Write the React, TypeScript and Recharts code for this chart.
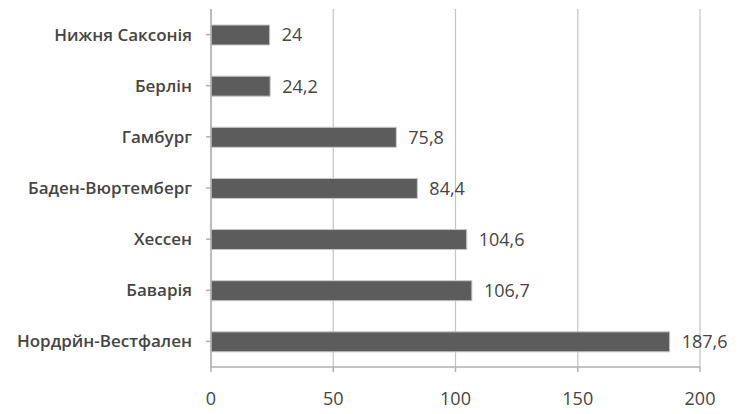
import React from 'react';
import { BarChart, Bar, XAxis, YAxis, CartesianGrid, LabelList } from 'recharts';

const categories = ['Нижня Саксонія', 'Берлін', 'Гамбург', 'Баден-Вюртемберг', 'Хессен', 'Баварія', 'Нордрйн-Вестфален'];
const values = [24, 24.2, 75.8, 84.4, 104.6, 106.7, 187.6];
const xTicks = [0, 50, 100, 150, 200];

const data = categories.map((name, i) => ({ name, value: values[i] }));

const fmt = (v: number) => String(v).replace('.', ',');

export default function App() {
  return (
    <div style={{ position: 'absolute', left: 0, top: 0, background: '#fff' }}>
      <BarChart
        width={739}
        height={414}
        data={data}
        layout="vertical"
        margin={{ top: 9, right: 39, bottom: 0, left: 0 }}
        barSize={20}
      >
        <CartesianGrid horizontal={false} vertical={true} stroke="#c4c4c4" strokeWidth={1.2} />
        <XAxis
          type="number"
          domain={[0, 200]}
          ticks={xTicks}
          height={47}
          axisLine={{ stroke: '#b0b0b0', strokeWidth: 1.5 }}
          tickLine={{ stroke: '#b0b0b0', strokeWidth: 1.5 }}
          tickSize={5}
          tickMargin={20}
          tick={{ fill: '#454545', fontSize: 18, fontFamily: 'Open Sans' }}
        />
        <YAxis
          type="category"
          dataKey="name"
          width={211}
          axisLine={{ stroke: '#b0b0b0', strokeWidth: 1.5 }}
          tickLine={{ stroke: '#b0b0b0', strokeWidth: 1.5 }}
          tickSize={5}
          tickMargin={14}
          interval={0}
          tick={{ fill: '#454545', fontSize: 17, fontFamily: 'Open Sans', fontWeight: 600 }}
        />
        <Bar dataKey="value" fill="#5c5c5c" stroke="#c8c8c8" strokeWidth={1} isAnimationActive={false}>
          <LabelList
            dataKey="value"
            position="right"
            offset={12}
            formatter={(v: number) => fmt(v)}
            style={{ fill: '#454545', fontSize: 18, fontFamily: 'Open Sans' }}
          />
        </Bar>
      </BarChart>
    </div>
  );
}
